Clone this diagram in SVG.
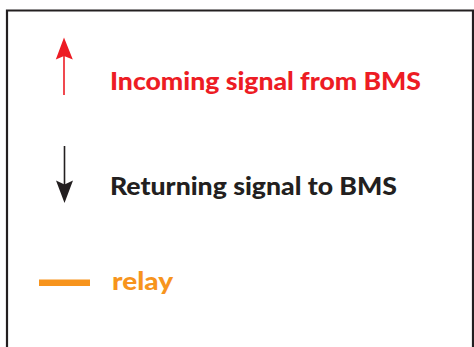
<svg xmlns="http://www.w3.org/2000/svg" width="474" height="347" viewBox="0 0 474 347">
<style>
.lbl{font-family:Lato,"Open Sans","Liberation Sans",sans-serif;font-weight:900;font-size:24px}
.frame{fill:none;stroke:#231f20;stroke-width:2.2}
</style>
<rect width="474" height="347" fill="#fff"/>
<path class="frame" d="M7,348 V10.5 H473 V348"/>
<g id="incoming">
<line x1="64" y1="95" x2="64" y2="52" stroke="#ed1c24" stroke-width="1.6"/>
<path d="M64,37.5 L72.8,59.5 L64,56 L55.8,59.5 Z" fill="#ed1c24"/>
<text class="lbl" x="110" y="90" fill="#ed1c24" textLength="311" lengthAdjust="spacingAndGlyphs">Incoming signal from BMS</text>
</g>
<g id="returning">
<line x1="64.5" y1="146" x2="64.5" y2="190" stroke="#231f20" stroke-width="1.6"/>
<path d="M64.5,203 L73,180.5 L64.5,184.5 L56,180.5 Z" fill="#231f20"/>
<text class="lbl" x="110" y="195" fill="#231f20" textLength="287" lengthAdjust="spacingAndGlyphs">Returning signal to BMS</text>
</g>
<g id="relay">
<line x1="39" y1="282.7" x2="90" y2="282.7" stroke="#f7941d" stroke-width="6.5"/>
<text class="lbl" x="112" y="290" fill="#f7941d" textLength="61" lengthAdjust="spacingAndGlyphs">relay</text>
</g>
</svg>
